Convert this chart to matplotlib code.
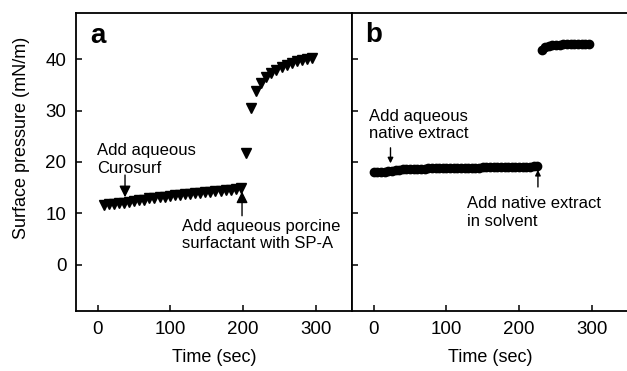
import numpy as np
import matplotlib as mpl
mpl.use('Agg')
import matplotlib.pyplot as plt

plt.rcParams['font.family'] = ['Liberation Sans', 'DejaVu Sans']

# panel a: Curosurf then porcine surfactant with SP-A
a_low_time = [8, 15, 22, 29, 36, 43, 50, 57, 64, 71, 78, 85, 92, 99,
              106, 113, 120, 127, 134, 141, 148, 155, 162, 169, 176, 183, 190, 197]
a_low_pres = [11.7, 11.8, 11.9, 12.0, 12.1, 12.3, 12.4, 12.6, 12.7, 12.9, 13.0, 13.1, 13.2, 13.4,
              13.5, 13.6, 13.7, 13.8, 13.9, 14.0, 14.1, 14.2, 14.3, 14.4, 14.5, 14.6, 14.7, 14.9]
a_high_time = [204, 211, 218, 225, 232, 239, 246, 253, 260, 267, 274, 281, 288, 295]
a_high_pres = [21.8, 30.5, 33.8, 35.3, 36.6, 37.4, 38.0, 38.5, 38.9, 39.3, 39.6, 39.9, 40.1, 40.3]

# panel b: aqueous native extract then native extract in solvent
b_low_time = [0, 5, 10, 15, 20, 25, 30, 35, 40, 45, 50, 55, 60, 65, 70, 75, 80, 85, 90, 95,
              100, 105, 110, 115, 120, 125, 130, 135, 140, 145, 150, 155, 160, 165, 170, 175,
              180, 185, 190, 195, 200, 205, 210, 215, 220, 225]
b_low_pres = [18.1, 18.1, 18.1, 18.1, 18.2, 18.3, 18.4, 18.5, 18.6, 18.6, 18.7, 18.7, 18.7, 18.7,
              18.7, 18.8, 18.8, 18.8, 18.8, 18.8, 18.8, 18.8, 18.9, 18.9, 18.9, 18.9, 18.9, 18.9,
              18.9, 18.9, 19.0, 19.0, 19.0, 19.0, 19.0, 19.0, 19.0, 19.1, 19.1, 19.1, 19.1, 19.1,
              19.1, 19.1, 19.2, 19.3]
b_high_time = [231, 236, 241, 246, 251, 256, 261, 266, 271, 276, 281, 286, 291, 296]
b_high_pres = [41.8, 42.3, 42.6, 42.7, 42.8, 42.8, 42.9, 42.9, 42.9, 43.0, 43.0, 43.0, 43.0, 43.0]

x_ticks = [0, 100, 200, 300]
y_ticks = [0, 10, 20, 30, 40]

fig = plt.figure(figsize=(6.27, 3.71), dpi=100)
ax_a = fig.add_axes([0.1212, 0.1617, 0.4402, 0.8033])
ax_b = fig.add_axes([0.5614, 0.1617, 0.4402, 0.8033])

for ax in (ax_a, ax_b):
    ax.set_xlim(-30, 350)
    ax.set_ylim(-9, 49)
    ax.set_xticks(x_ticks)
    ax.set_yticks(y_ticks)
    ax.tick_params(direction='in', length=4, width=1.1, labelsize=13.5, pad=7)
    for sp in ax.spines.values():
        sp.set_linewidth(1.3)
    ax.set_xlabel('Time (sec)', fontsize=13, labelpad=8)

ax_b.tick_params(labelleft=False)
ax_b.spines['right'].set_visible(False)
ax_a.set_ylabel('Surface pressure (mN/m)', fontsize=13)
ax_a.yaxis.set_label_coords(-0.165, 0.58)

# panel a markers
ax_a.plot(a_low_time, a_low_pres, 'v', color='black', markersize=6.5)
ax_a.plot(a_high_time, a_high_pres, 'v', color='black', markersize=6.5)
ax_a.text(0.053, 0.9, 'a', transform=ax_a.transAxes, fontsize=20, fontweight='bold')

ax_a.text(-1, 23.6, 'Add aqueous\nCurosurf', fontsize=12, va='top', ha='left', linespacing=1.2)
ax_a.annotate('', xy=(37.5, 12.6), xytext=(37.5, 18.0),
              arrowprops=dict(arrowstyle='-|>', color='black', lw=1, mutation_scale=17))
ax_a.text(116, 8.9, 'Add aqueous porcine\nsurfactant with SP-A', fontsize=12, va='top', ha='left',
          linespacing=1.2)
ax_a.annotate('', xy=(198.6, 14.8), xytext=(198.6, 9.0),
              arrowprops=dict(arrowstyle='-|>', color='black', lw=1, mutation_scale=17))

# panel b markers
ax_b.plot(b_low_time, b_low_pres, 'o', color='black', markersize=6)
ax_b.plot(b_high_time, b_high_pres, 'o', color='black', markersize=6)
ax_b.text(0.047, 0.904, 'b', transform=ax_b.transAxes, fontsize=20, fontweight='bold')

ax_b.text(-7, 30.3, 'Add aqueous\nnative extract', fontsize=12, va='top', ha='left', linespacing=1.2)
ax_b.annotate('', xy=(23, 19.2), xytext=(23, 23.3),
              arrowprops=dict(arrowstyle='-|>', color='black', lw=1, mutation_scale=8))
ax_b.text(129, 13.3, 'Add native extract\nin solvent', fontsize=12, va='top', ha='left',
          linespacing=1.2)
ax_b.annotate('', xy=(226, 19.0), xytext=(226, 14.6),
              arrowprops=dict(arrowstyle='-|>', color='black', lw=1, mutation_scale=8))

fig.savefig('out.png', dpi=100)
